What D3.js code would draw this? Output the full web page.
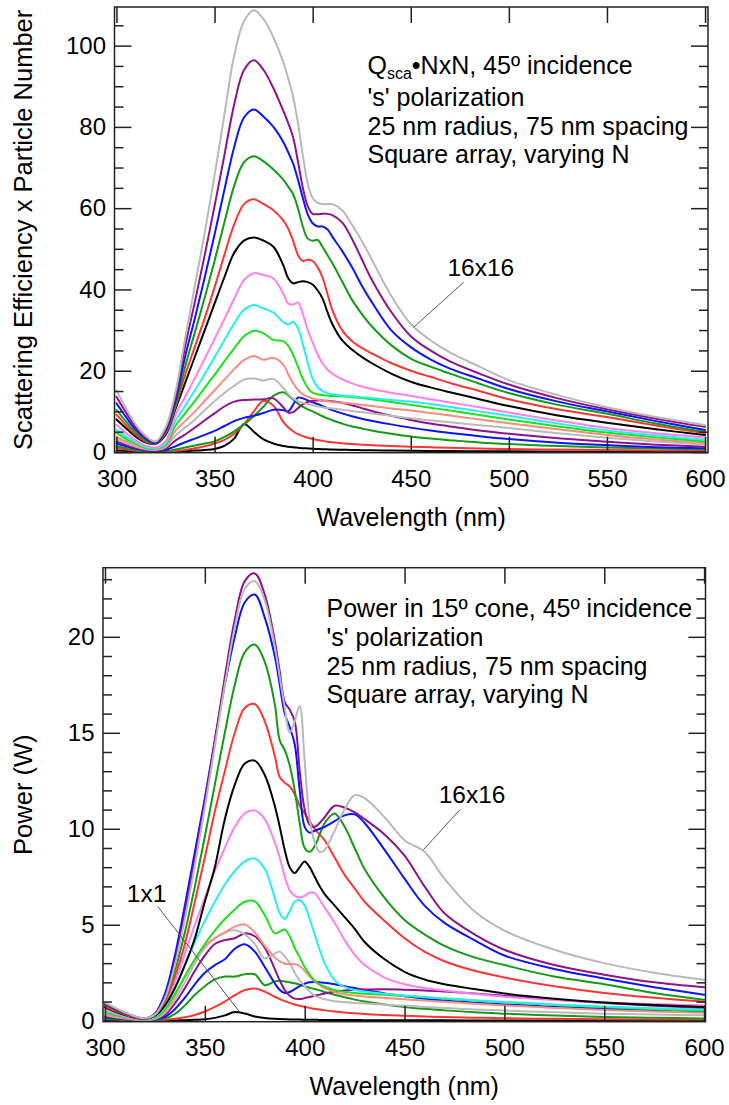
<!DOCTYPE html>
<html><head><meta charset="utf-8">
<script src="https://cdn.jsdelivr.net/npm/d3@7"></script>
<style>
html,body{margin:0;padding:0;background:#fff;}
svg{display:block;font-family:"Liberation Sans",Arial,sans-serif;}
</style></head><body>
<svg id="chart" width="729" height="1105"></svg>
<script>
// ---------- DATA ----------
const wavelengths = [300,305,310,315,320,325,330,335,340,345, 350,355,360,365,370,375,380,385,387.5,390, 392.5,395,397.5,400,402.5,405,407.5,410,415,420, 425,430,440,450,460,470,485,500,525,550, 575,600];

const seriesNames = ["1x1","2x2","3x3","4x4","5x5","6x6","7x7","8x8","9x9","10x10","11x11","12x12","13x13","14x14","15x15","16x16"];

// Top panel: Qsca * NxN
const scaN1 = [0.4,0.25,0.12,0.04,0.02,0.04,0.1,0.2,0.35,0.5, 0.75,1.5,3.3,6.9,5.0,3.1,2.1,1.5,1.3,1.15, 1.05,0.95,0.88,0.8,0.75,0.7,0.66,0.62,0.56,0.5, 0.46,0.42,0.36,0.31,0.27,0.24,0.2,0.17,0.13,0.11, 0.09,0.08];
const scaN2 = [1.0,0.6,0.3,0.1,0.05,0.1,0.25,0.5,0.9,1.4, 2.1,3.0,4.5,6.8,10.0,12.6,11.4,7.4,6.1,5.1, 4.4,3.9,3.5,3.2,2.95,2.75,2.55,2.4,2.15,1.95, 1.8,1.68,1.48,1.3,1.15,1.02,0.87,0.75,0.6,0.48, 0.4,0.35];
const scaN3 = [1.4,0.9,0.5,0.2,0.1,0.2,0.6,1.1,1.6,2.1, 2.6,3.7,5.1,6.8,8.8,11.2,13.8,14.7,14.0,12.9, 11.9,11.1,10.5,10.0,9.4,8.8,8.3,7.8,7.0,6.3, 5.8,5.3,4.5,3.8,3.3,2.9,2.35,1.95,1.45,1.1, 0.85,0.7];
const scaN4 = [2.1,1.4,0.8,0.4,0.25,0.5,1.4,2.4,3.3,4.2, 5.2,6.4,7.6,8.4,8.9,9.6,10.4,10.3,10.0,11.6, 13.4,13.2,12.7,12.2,11.8,11.3,10.8,10.3,9.5,8.8, 8.2,7.7,6.8,6.0,5.3,4.7,3.9,3.2,2.3,1.7, 1.2,0.9];
const scaN5 = [2.6,1.7,1.0,0.5,0.35,0.8,2.8,4.3,6.0,7.8, 9.5,11.2,12.4,12.8,12.9,13.0,13.2,11.0,9.7,9.8, 10.8,11.7,12.3,12.6,12.7,12.7,12.6,12.5,12.1,11.5, 10.8,10.1,8.9,7.9,7.0,6.3,5.3,4.5,3.4,2.5, 1.8,1.3];
const scaN6 = [3.2,2.2,1.3,0.7,0.5,1.2,4.0,6.0,8.0,10.3, 12.5,14.5,16.3,17.8,18.1,17.6,18.0,15.8,14.3,13.2, 12.5,12.1,11.8,11.5,11.25,11.0,10.85,10.7,10.4,10.1, 9.8,9.5,8.9,8.3,7.8,7.3,6.6,5.9,4.6,3.5, 2.6,1.8];
const scaN7 = [3.8,2.6,1.6,0.8,0.6,1.4,5.2,7.6,10.0,12.6, 15.2,17.8,20.4,22.6,23.6,22.7,23.2,21.5,19.2,17.0, 15.3,14.2,13.6,13.2,12.9,12.7,12.5,12.3,12.1,11.9, 11.6,11.3,10.7,10.2,9.6,9.0,8.0,7.1,5.6,4.2, 3.1,2.2];
const scaN8 = [4.7,3.2,2.0,1.0,0.8,1.8,6.4,9.5,12.6,15.8, 19.0,22.3,25.5,28.5,29.8,29.2,27.6,27.3,26.2,24.0, 21.0,18.0,15.8,14.6,14.2,14.0,13.9,13.8,13.7,13.5, 13.3,13.0,12.3,11.6,10.9,10.2,9.1,8.0,6.3,4.8, 3.6,2.6];
const scaN9 = [5.5,3.8,2.3,1.2,0.9,2.1,7.6,11.4,15.2,19.2, 23.3,27.5,31.6,35.0,36.2,35.3,34.3,32.0,31.4,32.0, 30.5,26.5,22.0,18.0,16.0,15.0,14.5,14.2,13.9,13.7, 13.5,13.3,12.8,12.4,11.8,11.1,10.0,8.9,7.0,5.3, 4.1,3.0];
const scaN10 = [6.7,4.6,2.8,1.5,1.1,2.6,9.0,13.6,18.2,23.0, 27.8,32.7,37.7,42.3,44.0,43.5,42.7,39.0,36.5,36.3, 36.8,34.0,30.0,27.0,24.0,21.8,20.3,19.3,17.9,16.9, 16.1,15.5,14.6,13.8,13.0,12.2,11.0,9.7,7.7,5.9, 4.6,3.6];
const scaN11 = [8.0,5.8,3.7,2.3,2.0,4.2,10.5,17.0,23.5,30.0, 36.5,43.0,49.0,52.0,52.8,52.0,50.5,46.0,42.8,41.5, 41.8,42.0,41.8,41.2,39.8,37.8,34.5,31.5,27.5,25.2, 23.4,21.9,19.3,17.3,15.9,14.7,13.0,11.3,9.0,7.2, 5.6,4.2];
const scaN12 = [9.2,6.6,4.2,2.5,2.0,4.5,11.0,19.0,26.0,33.0, 40.5,48.5,56.0,61.0,62.2,61.0,59.5,57.0,55.0,52.0, 48.5,47.0,47.3,47.0,45.5,43.0,39.0,35.0,30.0,27.3, 25.6,24.3,21.9,20.0,18.5,17.0,15.0,13.0,10.5,8.6, 6.5,4.6];
const scaN13 = [10.4,7.4,4.7,2.8,2.1,4.8,11.5,21.0,29.5,38.0, 47.0,56.5,65.5,71.3,72.8,71.5,69.5,67.0,65.3,63.5, 60.0,55.5,52.5,52.0,52.2,50.5,48.5,46.5,42.0,37.5, 34.0,31.0,26.3,23.0,21.0,19.3,16.8,14.5,11.6,9.4, 7.0,4.9];
const scaN14 = [12.0,8.5,5.4,3.2,2.2,5.2,12.5,23.5,33.0,43.0, 53.5,64.5,75.0,82.3,84.3,82.5,80.0,76.3,73.8,71.0, 67.0,62.5,58.5,56.3,55.5,55.5,54.8,53.0,49.5,45.5, 41.0,37.0,30.0,25.8,22.8,20.5,18.0,15.5,12.4,10.0, 7.6,5.4];
const scaN15 = [13.6,9.6,6.0,3.5,2.4,5.6,13.5,26.0,37.0,48.5, 60.5,73.0,85.5,94.0,96.4,94.0,89.5,84.0,81.0,77.5, 71.5,65.0,60.5,58.6,58.5,58.6,58.6,58.3,56.5,52.5, 47.5,42.5,34.5,28.5,25.0,22.3,19.3,16.6,13.2,10.5, 8.2,6.2];
const scaN16 = [15.2,10.6,6.6,3.9,2.6,6.0,14.5,28.0,41.0,54.0, 68.0,83.0,97.5,106.0,108.7,106.5,102.0,96.0,92.0,87.5, 81.0,73.0,66.0,62.5,61.3,61.0,61.0,61.0,59.5,56.0, 52.0,47.5,38.5,31.5,27.5,24.5,21.0,17.7,14.0,11.0, 8.6,6.6];

// Bottom panel: power in 15 deg cone (W)
const powN1 = [0.02,0.015,0.01,0.005,0.003,0.005,0.01,0.02,0.03,0.05, 0.08,0.15,0.28,0.45,0.38,0.22,0.14,0.1,0.09,0.08, 0.07,0.065,0.06,0.055,0.05,0.048,0.045,0.043,0.04,0.037, 0.034,0.032,0.028,0.025,0.022,0.02,0.018,0.016,0.013,0.011, 0.01,0.009];
const powN2 = [0.08,0.05,0.03,0.015,0.01,0.02,0.05,0.1,0.18,0.3, 0.48,0.72,1.0,1.33,1.6,1.68,1.52,1.25,1.13,1.02, 0.93,0.85,0.78,0.72,0.67,0.62,0.58,0.54,0.48,0.43, 0.39,0.35,0.3,0.26,0.22,0.19,0.16,0.13,0.1,0.08, 0.065,0.055];
const powN3 = [0.12,0.08,0.05,0.025,0.015,0.04,0.12,0.35,0.8,1.35, 1.8,2.15,2.3,2.3,2.42,2.42,1.85,2.05,2.08,2.05, 2.0,1.95,1.88,1.8,1.72,1.65,1.58,1.5,1.35,1.22, 1.1,1.0,0.85,0.72,0.62,0.54,0.44,0.37,0.27,0.2, 0.15,0.12];
const powN4 = [0.2,0.13,0.08,0.04,0.02,0.05,0.2,0.6,1.2,1.9, 2.5,2.9,3.2,3.75,3.98,3.6,2.8,1.95,1.6,1.45, 1.5,1.65,1.8,1.93,2.0,2.02,2.0,1.98,1.9,1.8, 1.7,1.6,1.42,1.28,1.15,1.05,0.94,0.85,0.72,0.62, 0.54,0.47];
const powN5 = [0.25,0.16,0.1,0.05,0.03,0.07,0.3,0.9,1.7,2.6, 3.4,4.0,4.2,4.3,4.55,4.4,3.8,2.7,2.1,1.6, 1.3,1.15,1.13,1.18,1.24,1.3,1.36,1.42,1.52,1.58, 1.62,1.63,1.64,1.62,1.58,1.52,1.42,1.3,1.1,0.93, 0.78,0.65];
const powN6 = [0.3,0.2,0.12,0.06,0.04,0.09,0.4,1.1,2.0,3.0, 3.8,4.3,4.6,4.72,4.5,4.0,3.25,3.5,3.6,3.35, 3.0,2.5,2.1,1.8,1.52,1.3,1.2,1.12,1.02,0.97, 0.93,0.9,0.84,0.78,0.72,0.67,0.59,0.53,0.44,0.37, 0.32,0.28];
const powN7 = [0.35,0.23,0.14,0.07,0.05,0.11,0.5,1.3,2.3,3.2, 3.9,4.3,4.6,4.9,5.02,4.6,3.9,3.3,3.1,2.97, 2.95,2.95,2.85,2.6,2.3,2.05,1.85,1.7,1.5,1.38, 1.31,1.26,1.19,1.12,1.05,0.99,0.89,0.8,0.67,0.56, 0.48,0.42];
const powN8 = [0.45,0.3,0.18,0.09,0.06,0.15,0.6,1.4,2.3,3.2, 4.0,4.7,5.3,5.8,6.2,6.22,5.5,4.55,4.65,4.75, 4.4,3.8,3.3,2.8,2.4,2.1,1.9,1.77,1.6,1.5, 1.45,1.41,1.35,1.29,1.22,1.15,1.05,0.96,0.82,0.7, 0.6,0.52];
const powN9 = [0.55,0.37,0.22,0.11,0.07,0.2,0.75,1.7,2.9,4.1, 5.2,6.2,7.1,7.8,8.3,8.45,7.9,6.4,5.6,5.3, 5.7,6.2,6.28,6.0,5.3,4.5,3.7,3.0,2.1,1.75, 1.6,1.52,1.4,1.32,1.24,1.17,1.07,0.98,0.85,0.74, 0.65,0.58];
const powN10 = [0.6,0.4,0.24,0.12,0.08,0.25,0.9,2.0,3.5,5.0, 6.4,7.8,9.0,10.1,10.8,10.95,10.5,9.3,8.5,7.5, 6.8,6.5,6.42,6.5,6.68,6.65,6.3,5.9,5.1,4.2, 3.45,2.9,2.25,1.9,1.7,1.57,1.4,1.25,1.08,0.95, 0.87,0.8];
const powN11 = [0.7,0.48,0.3,0.15,0.1,0.25,0.8,1.7,2.9,4.3, 6.2,8.0,10.5,12.3,13.4,13.55,12.8,11.2,10.1,8.9, 8.0,7.7,8.0,8.3,8.0,7.5,7.0,6.6,6.0,5.4, 4.8,4.1,3.2,2.55,2.15,1.9,1.65,1.42,1.15,0.95, 0.82,0.72];
const powN12 = [0.75,0.52,0.33,0.17,0.1,0.28,1.0,2.3,4.0,6.2, 8.5,10.9,13.0,15.0,16.3,16.5,15.6,13.8,12.7,12.4, 12.2,11.8,11.2,10.8,10.4,10.0,9.7,9.4,8.5,7.6, 6.9,6.2,5.2,4.3,3.6,3.1,2.6,2.25,1.8,1.45, 1.2,1.0];
const powN13 = [0.8,0.56,0.36,0.19,0.11,0.3,1.1,2.6,4.6,7.0, 9.6,12.3,15.0,17.5,19.2,19.6,18.7,16.5,14.6,14.1, 13.3,12.0,10.3,9.0,8.8,9.1,9.7,10.3,10.8,10.1, 9.0,7.9,6.4,5.25,4.5,3.9,3.3,2.9,2.3,1.9, 1.45,1.1];
const powN14 = [0.9,0.64,0.41,0.22,0.12,0.38,1.4,3.4,6.0,8.8, 11.6,14.6,17.5,20.0,21.8,22.2,21.0,19.0,17.5,16.0, 15.3,14.4,12.0,10.1,9.8,9.9,10.0,10.1,10.4,10.7, 10.75,10.3,8.9,7.4,6.0,5.1,4.2,3.4,2.7,2.2, 1.75,1.35];
const powN15 = [0.85,0.6,0.38,0.2,0.11,0.33,1.25,3.1,5.6,8.4, 11.4,14.6,17.9,20.9,22.9,23.3,22.2,19.8,18.2,16.6, 16.2,15.6,13.0,11.0,10.2,10.1,10.3,10.6,11.2,11.1, 10.85,10.5,9.7,8.6,7.0,5.6,4.5,3.7,2.9,2.4, 2.0,1.74];
const powN16 = [0.95,0.68,0.43,0.23,0.13,0.32,1.15,2.9,5.3,8.1, 11.1,14.3,17.5,20.5,22.5,22.9,21.9,19.5,17.9,16.3, 15.0,15.6,16.4,13.5,10.5,9.3,8.8,8.9,9.9,11.0, 11.75,11.6,10.6,9.4,8.8,7.4,5.7,4.7,3.7,3.0, 2.5,2.13];

const xTickValues = [300,350,400,450,500,550,600];
const scaMajorTicks = [0,20,40,60,80,100];
const powMajorTicks = [0,5,10,15,20];

const scaNotes = ["'s' polarization","25 nm radius, 75 nm spacing","Square array, varying N"];
const powNotes = ["Power in 15º cone, 45º incidence","'s' polarization","25 nm radius, 75 nm spacing","Square array, varying N"];

// ---------- STYLE ----------
const colorCycle = ["#000000","#ff3535","#159a15","#0a14ff","#8e128e","#b9b9b9","#ff8a80","#1fe01f","#25f0f0","#ff80ee"];
const FONT = "'Liberation Sans', Arial, sans-serif";

const svg = d3.select("#chart");

function drawPanel(o){
  const g = svg.append("g");
  const x = d3.scaleLinear().domain(o.xDomain).range([o.left, o.right]);
  const y = d3.scaleLinear().domain(o.yDomain).range([o.bottom, o.top]);
  const clipId = "clip" + o.id;
  svg.append("clipPath").attr("id", clipId).append("rect")
    .attr("x", o.left).attr("y", o.top).attr("width", o.right - o.left).attr("height", o.bottom - o.top);

  const line = d3.line()
    .x((d,i) => x(wavelengths[i]))
    .y(d => y(d))
    .curve(d3.curveCatmullRom.alpha(0.5));

  const lines = g.append("g").attr("clip-path", `url(#${clipId})`);
  o.series.forEach((s,i) => {
    lines.append("path").attr("d", line(s)).attr("fill","none")
      .attr("stroke", colorCycle[i % colorCycle.length]).attr("stroke-width", 2)
      .attr("stroke-linejoin","round").attr("stroke-linecap","round");
  });

  const minor = d3.range(o.yMinorStep, o.yDomain[1], o.yMinorStep).filter(v => !o.yMajor.includes(v));
  const styleAxis = sel => {
    sel.select(".domain").remove();
    sel.selectAll("line").attr("stroke","#222").attr("stroke-width",1.5);
    sel.selectAll("text").attr("fill","#000").style("font-size","24px").style("font-family", FONT);
  };
  g.append("g").attr("transform",`translate(${o.left},0)`)
    .call(d3.axisLeft(y).tickValues(o.yMajor).tickSizeInner(-17).tickSizeOuter(0).tickPadding(8.5).tickFormat(d3.format("d"))).call(styleAxis);
  g.append("g").attr("transform",`translate(${o.left},0)`)
    .call(d3.axisLeft(y).tickValues(minor).tickSizeInner(-9).tickSizeOuter(0).tickFormat("")).call(styleAxis);
  g.append("g").attr("transform",`translate(${o.right},0)`)
    .call(d3.axisRight(y).tickValues(o.yMajor).tickSizeInner(-17).tickSizeOuter(0).tickFormat("")).call(styleAxis);
  g.append("g").attr("transform",`translate(${o.right},0)`)
    .call(d3.axisRight(y).tickValues(minor).tickSizeInner(-9).tickSizeOuter(0).tickFormat("")).call(styleAxis);
  g.append("g").attr("transform",`translate(0,${o.bottom})`)
    .call(d3.axisBottom(x).tickValues(xTickValues).tickSizeInner(-16).tickSizeOuter(0).tickPadding(17).tickFormat(d3.format("d"))).call(styleAxis);
  g.append("g").attr("transform",`translate(0,${o.top})`)
    .call(d3.axisTop(x).tickValues(xTickValues).tickSizeInner(-16).tickSizeOuter(0).tickFormat("")).call(styleAxis);

  g.append("rect").attr("x", o.left).attr("y", o.top).attr("width", o.right - o.left).attr("height", o.bottom - o.top)
    .attr("fill","none").attr("stroke","#222").attr("stroke-width",1.5);

  // axis titles
  g.append("text").attr("x", (o.left + o.right)/2).attr("y", o.bottom + 73)
    .attr("text-anchor","middle").style("font-size","25px").text("Wavelength (nm)");
  g.append("text").attr("transform",`translate(31.5,${(o.top + o.bottom)/2}) rotate(-90)`)
    .attr("text-anchor","middle").style("font-size","25.5px").text(o.yTitle);

  // annotation block
  const ann = g.append("g").style("font-size","25px");
  o.noteLines.forEach((t,i) => {
    const tx = ann.append("text").attr("x", o.noteX).attr("y", o.noteY[i]);
    if (t === null) {
      tx.append("tspan").text("Q");
      tx.append("tspan").attr("dy", 5).style("font-size","16px").text("sca");
      tx.append("tspan").attr("dy", -5).text("•NxN, 45º incidence");
    } else tx.text(t);
  });

  // series labels with leader lines
  o.labels.forEach(l => {
    g.append("line").attr("x1", x(l.from[0])).attr("y1", y(l.from[1]))
      .attr("x2", x(l.to[0])).attr("y2", y(l.to[1]))
      .attr("stroke","#555").attr("stroke-width",1);
    g.append("text").attr("x", x(l.at[0])).attr("y", y(l.at[1])).attr("text-anchor","middle")
      .style("font-size","24.5px").text(l.text);
  });
}

drawPanel({
  id: "top", left: 114.5, right: 708, top: 7, bottom: 452.7,
  xDomain: [299, 601.5], yDomain: [-0.17, 109.5],
  series: [scaN1,scaN2,scaN3,scaN4,scaN5,scaN6,scaN7,scaN8,scaN9,scaN10,scaN11,scaN12,scaN13,scaN14,scaN15,scaN16],
  yMajor: scaMajorTicks, yMinorStep: 5,
  yTitle: "Scattering Efficiency x Particle Number",
  noteLines: [null].concat(scaNotes), noteX: 367.5, noteY: [74,105.5,134.5,163],
  labels: [{text: seriesNames[15], at: [485.7, 43.3], from: [477, 41.8], to: [451.5, 30.7]}]
});

drawPanel({
  id: "bot", left: 103, right: 705.5, top: 567.7, bottom: 1021.7,
  xDomain: [299, 600.7], yDomain: [-0.05, 23.6],
  series: [powN1,powN2,powN3,powN4,powN5,powN6,powN7,powN8,powN9,powN10,powN11,powN12,powN13,powN14,powN15,powN16],
  yMajor: powMajorTicks, yMinorStep: 1,
  yTitle: "Power (W)",
  noteLines: powNotes, noteX: 326.5, noteY: [617,646,674.5,703],
  labels: [
    {text: seriesNames[15], at: [483.8, 11.34], from: [477.8, 11.0], to: [459.4, 8.9]},
    {text: seriesNames[0], at: [320.8, 6.18], from: [326.5, 5.94], to: [367.3, 0.47]}
  ]
});
</script>
</body></html>
